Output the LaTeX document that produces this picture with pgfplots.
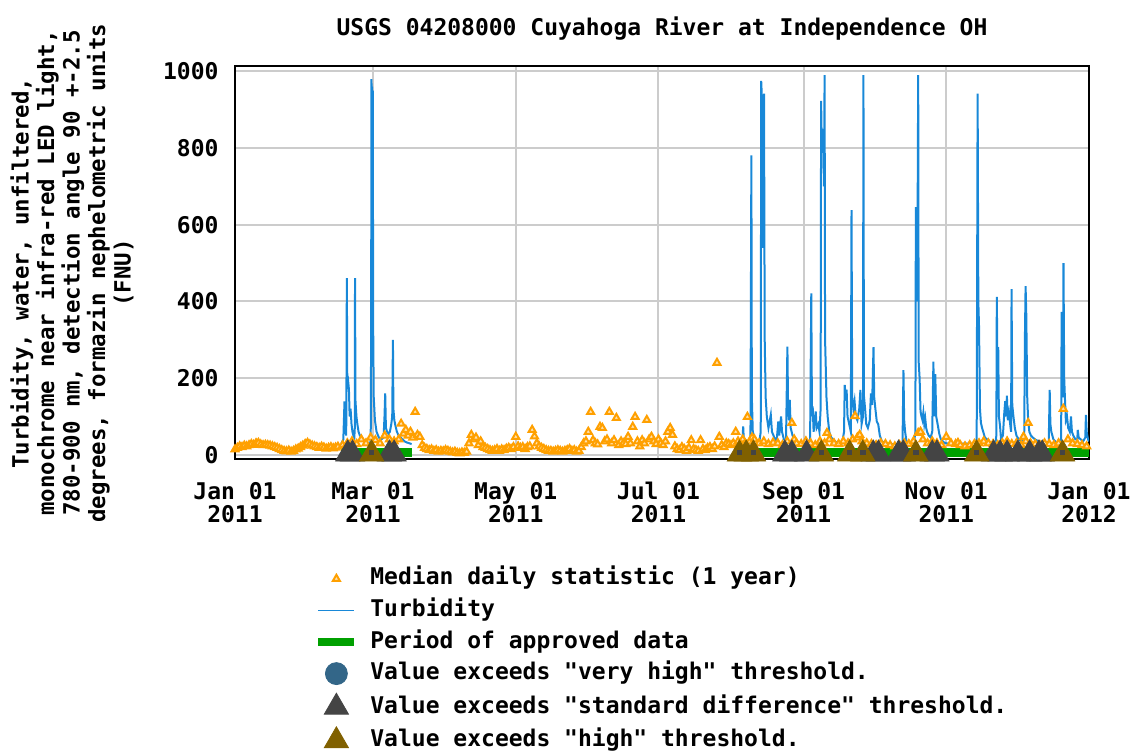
\documentclass[border=0pt]{standalone}
\usepackage{pgfplots}
\pgfplotsset{compat=1.18}
\usepackage{fontspec}
\setmainfont{DejaVu Sans Mono}[Ligatures=TeXOff]
\definecolor{turb}{RGB}{24,136,216}
\definecolor{med}{RGB}{255,160,0}
\definecolor{appr}{RGB}{0,160,0}
\definecolor{sdg}{RGB}{68,68,68}
\definecolor{hib}{RGB}{128,96,0}
\definecolor{vhb}{RGB}{51,102,136}
\begin{document}
\begin{tikzpicture}
\useasboundingbox (-117.5pt,-146pt) rectangle (447.5pt,229.5pt);
\begin{axis}[
  scale only axis, width=427pt, height=196.5pt,
  at={(0,0)}, anchor=south west,
  xmin=0, xmax=365, ymin=-11, ymax=1014,
  font=\fontsize{11.5}{11.5}\selectfont\bfseries,
  axis line style={line width=1.2pt, black},
  grid=major, major grid style={draw=black!20, line width=1pt},
  major tick length=0pt,
  ytick={0,200,400,600,800,1000},
  /pgf/number format/assume math mode=true,
  /pgf/number format/1000 sep={},
  yticklabel style={xshift=-4.7pt},
  xtick={0,59,120,181,243,304,365},
  xticklabels={Jan 01\\2011,Mar 01\\2011,May 01\\2011,Jul 01\\2011,Sep 01\\2011,Nov 01\\2011,Jan 01\\2012},
  xticklabel style={align=center, inner sep=0pt, yshift=-11.5pt},
  title={USGS 04208000 Cuyahoga River at Independence OH},
  title style={at={(axis description cs:0.5,1)}, anchor=center, yshift=12.5pt},
  ylabel={Turbidity, water, unfiltered,\\monochrome near infra-red LED light,\\780-900 nm, detection angle 90 +-2.5\\degrees, formazin nephelometric units\\(FNU)},
  ylabel style={at={(axis description cs:-0.1909,0.473)}, anchor=center, align=center, font=\fontsize{11.2}{12.75}\selectfont\bfseries},
  legend image code/.code={\draw[mark repeat=2,mark phase=2,#1] plot coordinates {(0pt,0pt) (9pt,0pt) (18pt,0pt)};},
  legend cell align=left,
  legend style={at={(axis description cs:0.0925,-0.2733)}, anchor=north west, draw=none, fill=none, inner sep=0pt,
    font=\fontsize{11.5}{11.5}\selectfont\bfseries, row sep=3.8pt, column sep=6pt,
    nodes={inner sep=0pt, text height=9pt, text depth=3pt}},
]
% legend
\addlegendimage{only marks, mark=triangle*, mark size=2pt, mark options={draw=med, fill=med!30!white, line width=1pt}}
\addlegendentry{Median daily statistic (1 year)}
\addlegendimage{turb, line width=0.8pt}
\addlegendentry{Turbidity}
\addlegendimage{appr, line width=4pt}
\addlegendentry{Period of approved data}
\addlegendimage{only marks, mark=*, mark size=5.5pt, mark options={draw=vhb, fill=vhb}}
\addlegendentry{Value exceeds "very high" threshold.}
\addlegendimage{only marks, mark=triangle*, mark size=7pt, mark options={draw=sdg, fill=sdg}}
\addlegendentry{Value exceeds "standard difference" threshold.}
\addlegendimage{only marks, mark=triangle*, mark size=7pt, mark options={draw=hib, fill=hib}}
\addlegendentry{Value exceeds "high" threshold.}

% turbidity, first period
\addplot[turb, line width=1pt, forget plot] coordinates {
(45.5,30) (46.3,40) (46.8,139) (47.1,70) (47.5,50) (47.6,100) (47.8,461) (48.0,180) (48.4,190) (48.7,170) (49.0,100) (49.4,120) (49.8,80) (50.2,60) (50.6,50) (51.0,45) (51.2,70) (51.3,461) (51.5,140) (51.9,100) (52.3,80) (52.8,60) (53.4,50) (54.0,45) (54.8,40) (55.5,35) (56.5,32) (57.5,30) (58.0,35) (58.2,340) (58.3,980) (58.45,940) (58.6,960) (58.75,600) (58.9,950) (59.05,340) (59.3,150) (59.8,90) (60.5,60) (61.5,45) (62.5,40) (63.5,45) (63.9,100) (64.2,160) (64.5,70) (65.0,60) (65.6,55) (66.2,60) (66.8,80) (67.2,100) (67.5,300) (67.7,120) (68.1,90) (68.6,75) (69.2,60) (70.0,50) (70.8,45) (71.6,40) (72.5,35) (73.5,32) (74.5,30) (75.5,28)
};
% turbidity, second period
\addplot[turb, line width=1pt, forget plot] coordinates {
(215.2,25) (216.0,22) (216.8,30) (217.2,74) (217.5,35) (218.3,30) (219.2,28) (220.3,30) (220.7,781) (220.9,150) (221.3,60) (222.0,45) (223.0,35) (224.0,30) (224.7,60) (224.9,975) (225.2,930) (225.5,540) (225.8,600) (226.1,942) (226.4,300) (226.8,150) (227.3,100) (228.0,70) (229.0,104) (229.5,60) (230.5,45) (231.5,35) (232.2,87) (232.6,50) (233.4,100) (233.8,60) (234.6,40) (235.5,35) (236.1,282) (236.4,120) (236.8,90) (237.1,143) (237.5,70) (238.3,50) (239.2,40) (240.2,35) (241.5,30) (243,28) (244.5,30) (245.8,40) (246.3,421) (246.6,100) (246.9,126) (247.3,60) (248.2,113) (248.6,70) (249.3,80) (249.8,60) (250.3,120) (250.5,923) (250.8,800) (251.1,830) (251.4,850) (251.7,700) (252.0,990) (252.2,300) (252.4,252) (252.8,150) (253.3,100) (254.0,60) (254.8,45) (255.6,40) (256.5,35) (257.5,30) (258.5,28) (259.5,30) (260.3,60) (260.6,182) (261.0,150) (261.4,170) (261.8,100) (262.5,80) (263.2,60) (263.5,638) (263.8,150) (264.3,120) (264.8,140) (265.3,100) (266.0,90) (266.8,120) (267.3,169) (267.8,80) (268.4,100) (268.6,990) (268.8,154) (269.3,120) (269.8,80) (270.5,70) (271.3,90) (271.8,160) (272.3,130) (272.9,281) (273.2,150) (273.7,120) (274.3,87) (274.9,80) (275.6,50) (276.5,35) (278,30) (280,28) (282,27) (284,28) (285.3,30) (285.7,221) (286.0,91) (286.4,60) (287,35) (288.5,30) (290.2,30) (290.8,60) (291.0,646) (291.4,400) (291.8,700) (292.0,990) (292.2,243) (292.6,200) (293.0,113) (293.4,100) (293.8,91) (294.2,110) (294.6,80) (295.0,95) (295.4,70) (295.8,60) (296.5,50) (297.3,45) (298.0,60) (298.5,243) (298.8,100) (299.3,210) (299.7,100) (300.3,80) (301,55) (301.7,40) (303,32) (304,30) (306,28) (308,30) (310,28) (312,30) (314,28) (316,30) (317,40) (317.4,942) (317.7,400) (318.0,334) (318.4,120) (318.8,84) (319.3,70) (319.8,60) (320.5,45) (321.5,40) (323,32) (325,30) (325.4,50) (325.6,412) (325.9,200) (326.2,281) (326.5,100) (327.0,74) (327.4,40) (328.2,50) (328.8,110) (329.2,140) (329.6,100) (329.9,154) (330.3,90) (330.8,110) (331.3,80) (331.7,60) (331.9,432) (332.2,130) (332.7,100) (333.3,70) (334,50) (335,40) (336,35) (337.3,40) (337.6,300) (337.9,440) (338.2,364) (338.6,150) (339.0,90) (339.5,60) (340.2,50) (341,45) (342,40) (343.5,35) (345,32) (346.5,30) (347.8,35) (348.2,169) (348.5,80) (348.9,60) (349.8,40) (351,32) (352.5,30) (353.1,40) (353.3,373) (353.6,200) (353.9,150) (354.1,500) (354.4,200) (354.7,150) (355.1,90) (355.6,100) (356.1,70) (356.8,60) (357.3,100) (357.7,60) (358.3,50) (359.2,40) (360.0,40) (360.2,65) (360.6,45) (361.5,40) (362.5,35) (363.4,45) (363.7,104) (364.0,60) (364.6,40) (365,35)
};
% median daily statistic
\addplot[only marks, mark=triangle*, mark size=2pt, mark options={draw=med, fill=med!30!white, line width=1pt}, forget plot] coordinates {
(0,14) (1,18) (2,22) (3,20) (4,24) (5,22) (6,25) (7,28) (8,26) (9,30) (10,31) (11,27) (12,25) (13,26) (14,25) (15,24) (16,22) (17,20) (18,18) (19,15) (20,12) (21,10) (22,9) (23,11) (24,8) (25,10) (26,14) (27,16) (28,20) (29,24) (30,28) (31,31) (32,27) (33,24) (34,22) (35,20) (36,18) (37,21) (38,19) (39,16) (40,18) (41,20) (42,17) (43,19) (44,21)
(46,25) (48,30) (50,35) (52,28) (54,40) (56,30) (58,45) (60,38) (62,30) (64,50) (66,40) (68,35)
(70,40) (71,81) (72,55) (73,65) (74,50) (75,60) (76,45) (77,112) (78,52) (79,47) (80,25) (81,18) (82,15) (83,12) (84,14) (85,10) (86,12) (87,8) (88,10) (89,9) (90,12) (91,10) (92,8) (93,6) (94,8) (95,5) (96,4) (97,6) (98,5) (99,8)
(100,30) (101,52) (102,40) (103,45) (104,25) (105,35) (106,20) (107,18) (108,15) (109,12) (110,10) (111,12) (112,15) (113,10) (114,14) (115,12) (116,16) (117,18) (118,15) (119,20) (120,47) (121,22) (122,18) (123,20) (124,15) (125,20) (126,22) (127,65) (128,48) (129,30) (130,22) (131,18)
(132,15) (133,12) (134,10) (135,10) (136,8) (137,10) (138,12) (139,10) (140,8) (141,10) (142,12) (143,15) (144,10) (145,12) (146,8) (147,10) (148,20)
(149,30) (150,35) (151,60) (152,112) (153,38) (154,30) (155,27) (156,73) (157,70) (158,35) (159,40) (160,112) (161,30) (162,38) (163,96) (164,25) (165,35) (166,30) (167,28) (168,47) (169,30) (170,73) (171,99) (172,35) (173,22) (174,38) (175,30) (176,91) (177,40) (178,47) (179,35) (180,28) (181,40) (182,30) (183,25) (184,35) (185,60) (186,70) (187,52) (188,22) (189,15) (190,12) (191,20) (192,15) (193,10) (194,18) (195,38) (196,15) (197,12) (198,10) (199,38) (200,15) (201,12) (202,18) (203,20) (204,15) (205,22) (206,240) (207,47) (208,25) (209,20) (210,30) (211,28) (212,25) (213,30) (214,60) (215,35) (216,30) (217,40) (218,30) (219,99) (220,35) (221,45)
(222,40) (224,30) (226,35) (228,28) (230,32) (232,30) (234,25) (236,35) (238,83) (239,40) (240,30) (242,28) (244,35) (246,30) (248,25) (250,35) (252,30) (253,57) (254,40) (256,30) (258,28) (260,35) (262,30) (264,40) (265,101) (266,45) (267,52) (268,35) (270,30) (272,28) (274,25) (276,30) (278,28) (280,25) (282,22) (284,25) (286,30) (288,28) (290,35) (292,57) (293,60) (294,40) (296,30) (298,35) (300,30) (302,25) (304,47) (306,30) (308,28) (309,31) (310,25) (312,22) (314,25) (316,28) (318,30) (320,35) (322,30) (324,28) (326,25) (328,30) (330,35) (332,28) (334,30) (336,25) (337,47) (338,35) (339,83) (340,30) (342,28) (344,25) (346,30) (348,28) (350,25) (352,30) (354,120) (356,40) (358,30) (360,28) (362,25) (364,22)
};
% period of approved data
\addplot[appr, line width=4.5pt, forget plot] coordinates {(45.5,6) (75.7,6)};
\addplot[appr, line width=4.5pt, forget plot] coordinates {(215,6) (365,6)};
% standard difference markers
\addplot[only marks, mark=triangle*, mark size=7pt, mark options={draw=sdg, fill=sdg}, forget plot] coordinates {
(48.2,2) (50.2,2) (66.0,2) (68.0,2)
(235.0,2) (238.0,2) (244.3,2) (272.8,2) (275.0,2) (283.6,2) (285.6,2) (298.0,2) (300.0,2) (324.2,2) (327.0,2) (330.0,2) (334.6,2) (339.6,2) (343.6,2) (345.0,2)
};
% high markers
\addplot[only marks, mark=triangle*, mark size=7pt, mark options={draw=hib, fill=hib}, forget plot] coordinates {
(58.4,2) (215.6,2) (218.5,2) (221.6,2) (250.6,2) (262.7,2) (268.3,2) (291.0,2) (317.0,2) (353.7,2)
};
\addplot[only marks, mark=square*, mark size=1.1pt, mark options={draw=sdg, fill=sdg}, forget plot] coordinates {
(58.4,7) (215.6,7) (221.6,7) (250.6,7) (262.7,7) (268.3,7) (291.0,7) (317.0,7) (353.7,7)
};
\end{axis}
\end{tikzpicture}
\end{document}
